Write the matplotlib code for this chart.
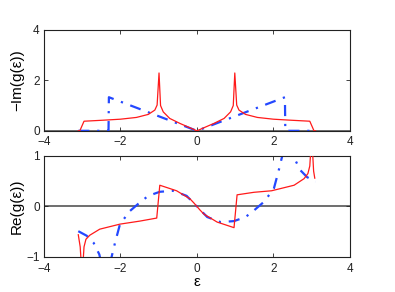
import matplotlib
matplotlib.use("Agg")
import matplotlib.pyplot as plt

# ---- data ----
red_im_x = [-3.10, -3.06, -2.95, -2.45, -2.00, -1.58, -1.27, -1.10, -1.04, -0.99, -0.95, -0.88, -0.71, -0.44, -0.18, 0.00,
            0.18, 0.44, 0.71, 0.88, 0.95, 0.99, 1.04, 1.10, 1.27, 1.58, 2.00, 2.45, 2.95, 3.06, 3.10]
red_im_y = [0.00, 0.00, 0.38, 0.42, 0.46, 0.53, 0.65, 0.82, 1.02, 2.29, 1.00, 0.75, 0.49, 0.29, 0.12, 0.00,
            0.12, 0.29, 0.49, 0.75, 1.00, 2.29, 1.02, 0.82, 0.65, 0.53, 0.46, 0.42, 0.38, 0.00, 0.00]

blue_im_x = [-3.10, -2.31, -2.30, 0.00, 2.30, 2.31, 3.10]
blue_im_y = [0.00, 0.00, 1.33, 0.00, 1.33, 0.00, 0.00]

red_re_x = [-3.10, -3.05, -3.00, -2.95, -2.90, -2.80, -2.54, -2.01, -1.49, -1.05, -0.97, -0.53, -0.18, -0.08, 0.00,
            0.08, 0.18, 0.53, 0.97, 1.05, 1.49, 1.95, 2.54, 2.80, 2.90, 2.95, 3.00, 3.05, 3.08]
red_re_y = [-0.56, -0.80, -1.40, -0.80, -0.65, -0.57, -0.45, -0.35, -0.29, -0.23, 0.42, 0.31, 0.15, 0.07, 0.00,
            -0.07, -0.15, -0.31, -0.42, 0.23, 0.28, 0.31, 0.42, 0.55, 0.65, 0.80, 1.40, 0.70, 0.56]

blue_re_x = [-3.10, -2.88, -2.70, -2.55, -2.42, -2.30, -2.23, -2.14, -2.01, -1.75, -1.49, -1.27, -0.97, -0.62, -0.27, 0.00,
             0.27, 0.62, 0.97, 1.27, 1.49, 1.75, 2.01, 2.14, 2.23, 2.30, 2.42, 2.55, 2.70, 2.88, 3.10]
blue_re_y = [-0.49, -0.58, -0.72, -0.95, -1.40, -2.50, -1.00, -0.72, -0.35, -0.09, 0.08, 0.21, 0.29, 0.31, 0.21, 0.00,
             -0.21, -0.31, -0.29, -0.21, -0.08, 0.09, 0.35, 0.72, 1.00, 2.50, 1.40, 0.95, 0.72, 0.58, 0.49]

x_ticks = [-4, -2, 0, 2, 4]
top_yticks = [0, 2, 4]
bot_yticks = [-1, 0, 1]

plt.rcParams['font.family'] = ['Liberation Sans', 'DejaVu Sans']

fig = plt.figure(figsize=(3.95, 2.92), dpi=100)
ax1 = fig.add_axes([0.111, 0.552, 0.775, 0.346])
ax2 = fig.add_axes([0.111, 0.120, 0.775, 0.346])

red = '#ff1a1a'
blue = '#2448ff'

for ax in (ax1, ax2):
    ax.axhline(0, color='#555555', lw=1.2, zorder=1)

ax1.plot(red_im_x, red_im_y, color=red, lw=0.9, zorder=3)
ax1.plot(blue_im_x, blue_im_y, color=blue, lw=1.6, dashes=[5, 3.5, 1, 3.5], zorder=2)
ax2.plot(red_re_x, red_re_y, color=red, lw=0.9, zorder=3)
ax2.plot(blue_re_x, blue_re_y, color=blue, lw=1.6, dashes=[5, 3.5, 1, 3.5], zorder=2)

ax1.set_xlim(-4, 4)
ax1.set_ylim(0, 4)
ax1.set_yticks(top_yticks)
ax2.set_xlim(-4, 4)
ax2.set_ylim(-1, 1)
ax2.set_yticks(bot_yticks)

for ax in (ax1, ax2):
    ax.set_xticks(x_ticks)
    ax.tick_params(direction='in', top=True, right=True, length=3, width=0.6,
                   labelsize=8.5, colors='#222222')
    ax.tick_params(axis='x', pad=4)
    ax.tick_params(axis='y', pad=3)
    for s in ax.spines.values():
        s.set_linewidth(0.8)
        s.set_color('#222222')

ax1.set_ylabel('−Im(g(ε))', fontsize=11)
ax2.set_ylabel('Re(g(ε))', fontsize=11)
ax2.set_xlabel('ε', fontsize=11, labelpad=0.5)
ax1.yaxis.set_label_coords(-0.065, 0.5)
ax2.yaxis.set_label_coords(-0.065, 0.5)

fig.savefig('out.png', dpi=100)
